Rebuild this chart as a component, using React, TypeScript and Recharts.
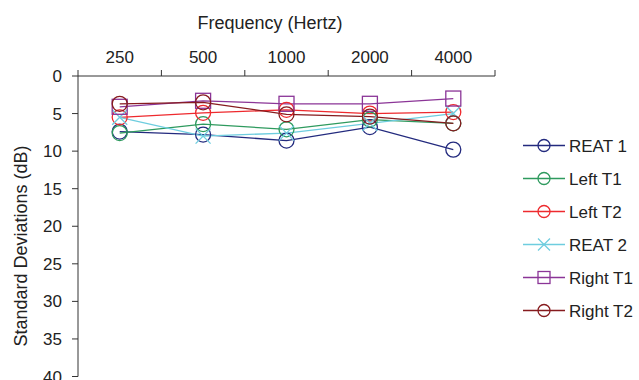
import React from 'react';
import { LineChart, Line, XAxis, YAxis } from 'recharts';

const frequencies = ['250', '500', '1000', '2000', '4000'];
const reat1 = [7.4, 7.8, 8.6, 6.8, 9.8];
const leftT1 = [7.6, 6.4, 7.1, 5.8, 6.3];
const leftT2 = [5.5, 4.9, 4.5, 5.0, 4.8];
const reat2 = [5.5, 8.0, 7.6, 6.3, 5.0];
const rightT1 = [4.1, 3.3, 3.7, 3.7, 3.0];
const rightT2 = [3.7, 3.5, 5.1, 5.4, 6.3];
const yTicks = [0, 5, 10, 15, 20, 25, 30, 35, 40];

const FONT = '"Liberation Sans", Arial, sans-serif';
const TEXT = '#222';

const series = [
  { key: 'reat1', name: 'REAT 1', color: '#232A7E', shape: 'circle', values: reat1 },
  { key: 'leftT1', name: 'Left T1', color: '#2E9A5E', shape: 'circle', values: leftT1 },
  { key: 'leftT2', name: 'Left T2', color: '#EE2A2E', shape: 'circle', values: leftT2 },
  { key: 'reat2', name: 'REAT 2', color: '#6ECDDF', shape: 'cross', values: reat2 },
  { key: 'rightT1', name: 'Right T1', color: '#8B3597', shape: 'square', values: rightT1 },
  { key: 'rightT2', name: 'Right T2', color: '#861B1E', shape: 'circle', values: rightT2 },
];

const data = frequencies.map((f, i) => {
  const row: Record<string, number | string> = { pos: i + 0.5, freq: f };
  series.forEach((s) => {
    row[s.key] = s.values[i];
  });
  return row;
});

// integer positions are the category borders, halves carry the labels
const xTicks = [0, 0.5, 1, 1.5, 2, 2.5, 3, 3.5, 4, 4.5, 5];

const Marker = ({ cx, cy, shape, color, size = 7.5 }: any) => {
  if (shape === 'square') {
    return <rect x={cx - size} y={cy - size} width={size * 2} height={size * 2} fill="none" stroke={color} strokeWidth={1.3} />;
  }
  if (shape === 'cross') {
    return (
      <g stroke={color} strokeWidth={1.3}>
        <line x1={cx - size} y1={cy - size} x2={cx + size} y2={cy + size} />
        <line x1={cx - size} y1={cy + size} x2={cx + size} y2={cy - size} />
      </g>
    );
  }
  return <circle cx={cx} cy={cy} r={size} fill="none" stroke={color} strokeWidth={1.3} />;
};

const FreqTick = ({ x, y, payload }: any) => {
  const v = payload.value;
  if (Number.isInteger(v)) {
    return <line x1={x} y1={y} x2={x} y2={y - 6} stroke="#333" />;
  }
  return (
    <text x={x} y={y - 13} textAnchor="middle" fontSize={17} fontFamily={FONT} fill={TEXT}>
      {frequencies[Math.floor(v)]}
    </text>
  );
};

const ChartLegend = () => (
  <svg width={124} height={210} style={{ position: 'absolute', left: 515, top: 128 }}>
    {series.map((s, i) => {
      const cy = 17.5 + i * 33;
      return (
        <g key={s.key}>
          <line x1={8} y1={cy} x2={50} y2={cy} stroke={s.color} strokeWidth={1.3} />
          <Marker cx={29} cy={cy} shape={s.shape} color={s.color} size={6} />
          <text x={54} y={cy + 6} fontSize={17} fontFamily={FONT} fill={TEXT}>
            {s.name}
          </text>
        </g>
      );
    })}
  </svg>
);

export default function App() {
  return (
    <div style={{ position: 'absolute', left: 0, top: 0, width: 639, height: 380, background: '#fff' }}>
      <LineChart
        width={639}
        height={380}
        data={data}
        margin={{ top: 46, right: 144, bottom: 3.5, left: 0 }}
      >
        <XAxis
          dataKey="pos"
          type="number"
          orientation="top"
          domain={[0, 5]}
          ticks={xTicks}
          interval={0}
          tickLine={false}
          tickSize={0}
          tickMargin={0}
          tick={<FreqTick />}
          height={30}
          stroke="#333"
        />
        <YAxis
          reversed
          type="number"
          domain={[0, 40]}
          ticks={yTicks}
          interval={0}
          width={78}
          tickSize={6}
          tickMargin={10}
          stroke="#333"
          tick={{ fontSize: 17, fontFamily: FONT, fill: TEXT }}
        />
        {series.map((s) => (
          <Line
            key={s.key}
            dataKey={s.key}
            name={s.name}
            stroke={s.color}
            strokeWidth={1.3}
            isAnimationActive={false}
            dot={(p: any) => <Marker key={`${s.key}-${p.index}`} cx={p.cx} cy={p.cy} shape={s.shape} color={s.color} />}
            activeDot={false}
          />
        ))}
      </LineChart>
      <svg width={639} height={380} style={{ position: 'absolute', left: 0, top: 0, pointerEvents: 'none' }}>
        <text x={270} y={29} textAnchor="middle" fontSize={18} fontFamily={FONT} fill={TEXT}>
          Frequency (Hertz)
        </text>
        <text
          x={0}
          y={0}
          transform="translate(26.5 246) rotate(-90)"
          textAnchor="middle"
          fontSize={18}
          fontFamily={FONT}
          fill={TEXT}
        >
          Standard Deviations (dB)
        </text>
      </svg>
      <ChartLegend />
    </div>
  );
}
